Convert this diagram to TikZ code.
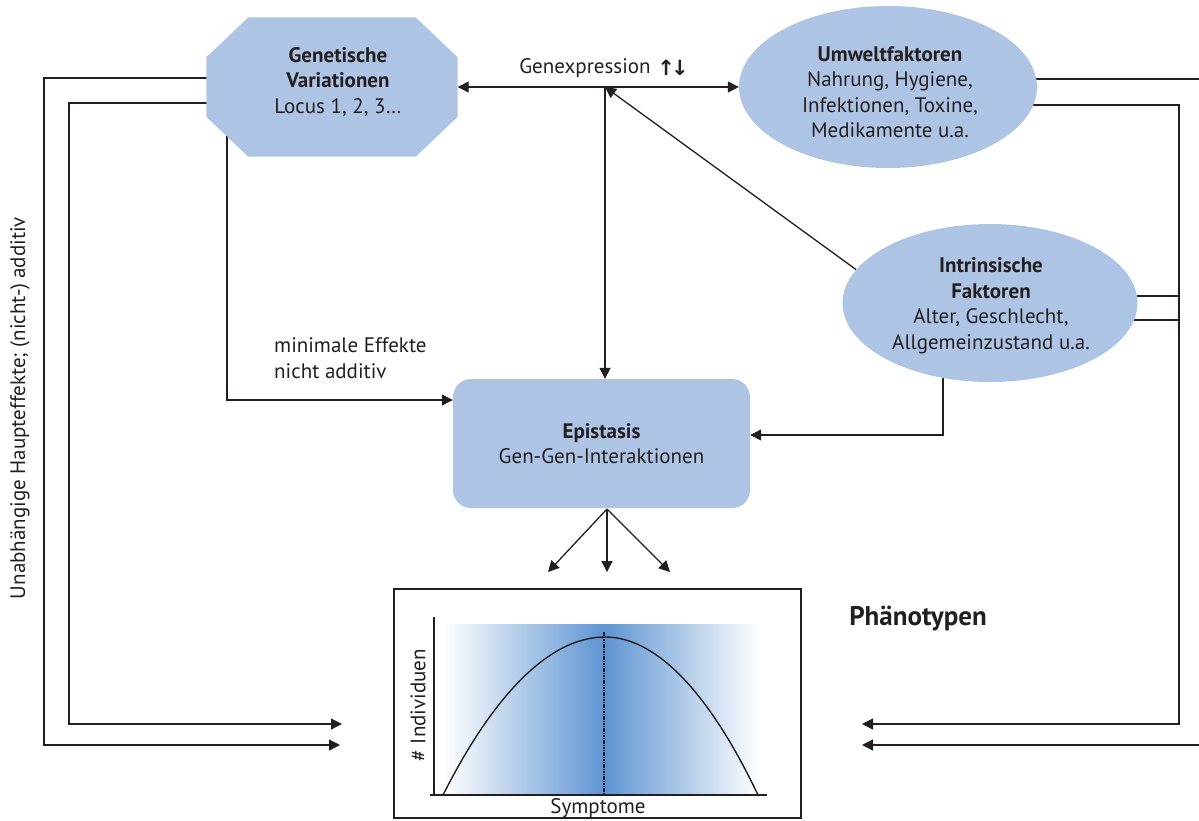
\documentclass[tikz,border=0pt]{standalone}
\usepackage{fontspec}
\setmainfont{PT Sans}
\newfontfamily\symfont{DejaVu Sans}
\usetikzlibrary{arrows.meta,shapes.geometric,backgrounds}
\definecolor{boxblue}{RGB}{173,196,228}
\definecolor{peakblue}{RGB}{94,148,210}
\definecolor{ink}{RGB}{35,31,32}
\tikzset{
  lbl/.style={text=ink,align=center,inner sep=0pt,font=\fontsize{21}{25.5}\selectfont},
  conn/.style={draw=ink,line width=1.3pt},
  arr/.style={conn,-{Triangle[length=11pt,width=11pt]}},
  blob/.style={fill=boxblue,inner sep=0pt},
}

\begin{document}
\begin{tikzpicture}[x=1pt,y=-1pt]
  \useasboundingbox (0,0) rectangle (1199,820);
  \clip (0,0) rectangle (1199,820);
  % factors
  \node[inner sep=0pt,minimum width=251pt,minimum height=139pt] (gen) at (332,87) {};
  \fill[boxblue] ([xshift=42pt]gen.north west) -- ([xshift=-42pt]gen.north east)
    -- ([yshift=-40pt]gen.north east) -- ([yshift=40pt]gen.south east)
    -- ([xshift=-42pt]gen.south east) -- ([xshift=42pt]gen.south west)
    -- ([yshift=40pt]gen.south west) -- ([yshift=-40pt]gen.north west) -- cycle;
  \node[lbl] (genlbl) at (338,82) {\textbf{Genetische}\\\textbf{Variationen}\\Locus 1, 2, 3…};
  \node[blob,ellipse,minimum width=298pt,minimum height=162pt] (umw) at (888,87) {};
  \node[lbl] (umwlbl) at (890,92) {\textbf{Umweltfaktoren}\\Nahrung, Hygiene,\\Infektionen, Toxine,\\Medikamente u.a.};
  \node[blob,ellipse,minimum width=295pt,minimum height=158pt] (intr) at (990,303) {};
  \node[lbl] (intrlbl) at (991,306) {\textbf{Intrinsische}\\\textbf{Faktoren}\\Alter, Geschlecht,\\Allgemeinzustand u.a.};
  \node[blob,lbl,rounded corners=18pt,minimum width=297pt,minimum height=129pt] (epi) at (601.5,443.5)
    {\textbf{Epistasis}\\Gen-Gen-Interaktionen};
  \node[lbl] (gxlbl) at (585,68) {Genexpression};
  \node[lbl] (updn) at (673,68) {\symfont\bfseries ↑\kern-4pt↓};
  \node[lbl,anchor=west,align=left] (minlbl) at (274,358) {minimale Effekte\\nicht additiv};
  \node[lbl,rotate=90] (sidelbl) at (20,408) {Unabhängige Haupteffekte; (nicht-) additiv};
  \node[lbl,font=\fontsize{27}{30}\selectfont\bfseries] (phlbl) at (918,619) {Phänotypen};
  % phenotype plot
  \node[draw=ink,line width=1.2pt,minimum width=407pt,minimum height=229pt,inner sep=0pt] (pheno) at (597.5,703.5) {};
  \shade[left color=white,right color=peakblue] (443,624) rectangle (604,795);
  \shade[left color=peakblue,right color=white] (604,624) rectangle (760,795);
  \draw[ink,line width=1.3pt] (434,617) -- (434,795);
  \draw[ink,line width=1.3pt] (430,795) -- (767,795);
  \draw[ink,line width=1.4pt] (443,795) parabola bend (605,637) (758,795);
  \draw[ink,line width=2.4pt,dash pattern=on 1.6pt off 0.8pt] (604,632) -- (604,795);
  \node[lbl] (symlbl) at (598,808) {Symptome};
  \node[lbl,rotate=90] (indlbl) at (418,705) {\# Individuen};
  % inputs into the plot
  \coordinate (gx) at (605,87);
  \coordinate (fan) at (607,509);
  \coordinate (inl1) at (342,724);
  \coordinate (inl2) at (340,745);
  \coordinate (inr1) at (862,724);
  \coordinate (inr2) at (862,745);
  \begin{scope}[on background layer]
    \draw[arr,{Triangle[length=11pt,width=11pt]}-{Triangle[length=11pt,width=11pt]}] (gen) -- (umw);
    \draw[arr] (gx) -- (gx |- epi.north);
    \draw[arr] (intr.166) -- (gx);
    \draw[arr] ([xshift=-105pt]gen.center) |- ([yshift=43.5pt]epi.west);
    \draw[arr] ([xshift=-47pt]intr.center) |- ([yshift=8.5pt]epi.east);
    \draw[arr] ([yshift=9pt]gen.center) -- (44,78) |- (inl2);
    \draw[arr] ([yshift=-16pt]gen.center) -- (69,103) |- (inl1);
    \draw[arr] ([yshift=8pt]umw.center) -- (1212,79) |- (inr2);
    \draw[arr] ([yshift=-18pt]umw.center) -- (1179,105) |- (inr1);
    \draw[conn] ([yshift=7pt]intr.center) -- (1179,296);
    \draw[conn] ([yshift=-17pt]intr.center) -- (1179,320);
    \foreach \tx/\nm in {548/fl,607/fm,670/fr} {
      \coordinate (\nm) at (\tx,572);
      \draw[arr] (fan) -- (\nm);
    }
  \end{scope}
\end{tikzpicture}
\end{document}
